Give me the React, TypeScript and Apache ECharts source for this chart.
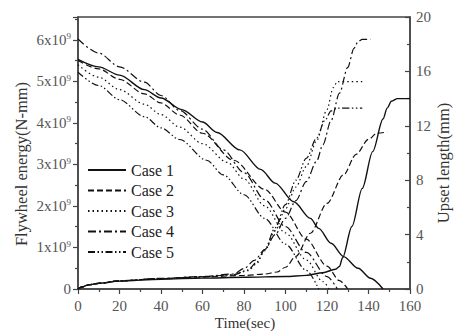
import React, { useEffect, useRef } from "react";
import * as echarts from "echarts";

const FONT = "Liberation Serif";

const caseNames = ["Case 1", "Case 2", "Case 3", "Case 4", "Case 5"];
const xTicks = { min: 0, max: 160, interval: 20 };
const leftTicks = { min: 0, max: 6.55, interval: 1 }; // units of 1e9 N-mm
const rightTicks = { min: 0, max: 20, interval: 4 };

// Flywheel energy (x10^9 N-mm) vs time (sec)
const energy1 = [[0,5.53],[10,5.35],[20,5.15],[32,4.8],[40,4.6],[50,4.32],[60,4.02],[67,3.77],[78,3.35],[88,2.88],[95,2.55],[104,2.1],[112,1.7],[116,1.46],[122,1.1],[128,0.78],[135,0.5],[141,0.26],[147,0]];
const energy2 = [[0,5.5],[10,5.3],[20,5.05],[32,4.7],[40,4.48],[49,4.19],[60,3.75],[75,3.1],[90,2.4],[100,1.85],[110,1.2],[120,0.55],[126,0.2],[130,0]];
const energy3 = [[0,5.4],[10,5.1],[20,4.8],[32,4.45],[40,4.2],[49,3.9],[60,3.5],[72,3.05],[80,2.65],[90,2.0],[100,1.35],[110,0.7],[118,0.18],[121,0]];
const energy4 = [[0,6.02],[10,5.68],[20,5.35],[32,4.98],[40,4.66],[49,4.3],[60,3.85],[70,3.35],[80,2.8],[90,2.15],[100,1.5],[110,0.88],[120,0.3],[125,0]];
const energy5 = [[0,5.22],[10,4.9],[20,4.56],[32,4.15],[40,3.88],[49,3.6],[62,3.1],[70,2.75],[80,2.27],[90,1.7],[100,1.08],[110,0.45],[116,0]];

// Upset length (mm) vs time (sec)
const upset1 = [[0,0],[2,0.15],[5,0.3],[10,0.42],[20,0.58],[40,0.72],[60,0.8],[80,0.86],[100,0.92],[110,1.0],[118,1.2],[124,1.45],[126,1.65],[127.5,2.3],[132,4.6],[137,7.4],[142,10.1],[147,12.5],[149,13.3],[151,13.8],[154,14.0],[160,14.0]];
const upset2 = [[0,0],[2,0.15],[5,0.3],[10,0.42],[20,0.6],[40,0.76],[60,0.88],[80,1.0],[90,1.1],[96,1.25],[100,1.6],[105,2.4],[112,4.1],[120,6.3],[128,8.4],[134,9.9],[140,11.0],[144,11.45],[149,11.55]];
const upset3 = [[0,0],[2,0.15],[5,0.3],[10,0.42],[20,0.6],[40,0.77],[60,0.9],[75,1.05],[82,1.35],[86,1.85],[90,2.8],[95,4.3],[100,5.9],[105,7.5],[110,9.0],[115,10.9],[120,13.2],[123,14.8],[125,15.25],[137,15.25]];
const upset4 = [[0,0],[2,0.15],[5,0.3],[10,0.42],[20,0.6],[40,0.78],[60,0.92],[75,1.1],[80,1.5],[85,2.1],[90,2.9],[95,4.0],[100,5.2],[105,6.5],[110,7.9],[115,9.4],[118,10.6],[122,12.4],[126,14.4],[130,16.3],[133,17.7],[135,18.2],[137,18.35],[141,18.35]];
const upset5 = [[0,0],[2,0.15],[5,0.3],[10,0.42],[20,0.6],[40,0.77],[60,0.9],[75,1.05],[82,1.4],[86,1.95],[90,2.9],[95,4.5],[100,6.2],[105,8.0],[110,9.6],[115,11.1],[119,12.4],[122,13.1],[125,13.3],[137,13.3]];

// curve number annotations: [time, value, text, fontSize]
const energyNotes: [number, number, string, number][] = [[62.3,2.77,"5",15],[72.4,2.9,"3",15],[94.9,2.87,"1",15],[90.9,2.39,"2",15],[87.7,2.12,"4",15],[108.9,0.98,"2",12]];
const upsetNotes: [number, number, string, number][] = [[137.3,18.95,"4",15],[137,16.35,"3",15],[137,14.75,"5",15],[155.8,14.9,"1",15],[150.4,10.35,"2",15]];

const energySets = [energy1, energy2, energy3, energy4, energy5];
const upsetSets = [upset1, upset2, upset3, upset4, upset5];
const dashTypes: any[] = ["solid", [6, 3], [1.5, 3], [8, 3, 2, 3], [7, 2.5, 1.5, 2.5, 1.5, 2.5]];

export default function App() {
  const ref = useRef<HTMLDivElement>(null);
  useEffect(() => {
    if (!ref.current) return;
    const chart = echarts.init(ref.current, undefined, { renderer: "svg" });
    const lineSeries: any[] = [];
    const mk = (d: number[][], i: number, yAxisIndex: number) => ({
      type: "line", name: caseNames[i], data: d, xAxisIndex: 0, yAxisIndex,
      symbol: "none", showSymbol: false, smooth: 0.3, smoothMonotone: "x",
      lineStyle: { color: "#111", width: i === 0 ? 1.4 : 1.2, type: dashTypes[i] },
      itemStyle: { color: "#111" }, silent: true,
    });
    energySets.forEach((d, i) => lineSeries.push(mk(d, i, 0)));
    upsetSets.forEach((d, i) => lineSeries.push(mk(d, i, 1)));
    const noteLabel = { show: true, position: "inside", formatter: "{b}", fontSize: 15, fontFamily: FONT, color: "#222" };
    const toNote = (n: [number, number, string, number]) => ({ name: n[2], value: [n[0], n[1]], label: { fontSize: n[3] } });
    lineSeries.push({
      type: "scatter", yAxisIndex: 0, symbolSize: 1, itemStyle: { opacity: 0 }, silent: true,
      data: energyNotes.map(toNote), label: noteLabel,
    });
    lineSeries.push({
      type: "scatter", yAxisIndex: 1, symbolSize: 1, itemStyle: { opacity: 0 }, silent: true,
      data: upsetNotes.map(toNote), label: noteLabel,
    });

    const axisLine = { show: true, lineStyle: { color: "#444", width: 1.5 } };
    const tickStyle = { color: "#444", width: 1.2 };
    chart.setOption({
      animation: false,
      textStyle: { fontFamily: FONT },
      grid: { left: 78, right: 44, top: 17, bottom: 43, show: true, borderColor: "#444", borderWidth: 1.5 },
      legend: {
        data: caseNames, orient: "vertical", left: 87, top: 162, padding: 0, itemWidth: 38, itemHeight: 14, itemGap: 4.5,
        textStyle: { fontSize: 16, fontFamily: FONT, color: "#222", lineHeight: 16 },
        itemStyle: { opacity: 0, borderWidth: 0 },
        selectedMode: false,
      },
      xAxis: {
        type: "value", ...xTicks,
        axisLine, splitLine: { show: false },
        axisTick: { show: true, length: 5, lineStyle: tickStyle },
        minorTick: { show: true, splitNumber: 2, length: 3, lineStyle: tickStyle },
        minorSplitLine: { show: false },
        axisLabel: { fontSize: 15, fontFamily: FONT, color: "#555", margin: 9 },
      },
      yAxis: [
        {
          type: "value", ...leftTicks, position: "left",
          axisLine, splitLine: { show: false },
          axisTick: { show: true, length: 5, lineStyle: tickStyle },
          minorTick: { show: true, splitNumber: 2, length: 3, lineStyle: tickStyle },
          axisLabel: {
            showMaxLabel: false, margin: 7, color: "#555", fontFamily: FONT, fontSize: 15,
            formatter: (v: number) => (v === 0 ? "{m|0}" : `{m|${v}x10}{s|9}`),
            rich: {
              m: { fontSize: 15, fontFamily: FONT, color: "#555" },
              s: { fontSize: 9, fontFamily: FONT, color: "#555", verticalAlign: "top", padding: [0, 0, 7, 0] },
            },
          },
        },
        {
          type: "value", ...rightTicks, position: "right",
          axisLine, splitLine: { show: false },
          axisTick: { show: true, inside: true, length: 5, lineStyle: tickStyle },
          minorTick: { show: true, splitNumber: 2, length: 3, lineStyle: tickStyle },
          axisLabel: { fontSize: 15, fontFamily: FONT, color: "#555", margin: 6 },
        },
      ],
      graphic: [
        { type: "text", x: 21, y: 164, rotation: Math.PI / 2, style: { text: "Flywheel energy(N-mm)", font: "16.5px Liberation Serif", fill: "#333", align: "center", verticalAlign: "middle" } },
        { type: "text", x: 443, y: 163, rotation: Math.PI / 2, style: { text: "Upset length(mm)", font: "16.5px Liberation Serif", fill: "#333", align: "center", verticalAlign: "middle" } },
        { type: "text", x: 245, y: 323, style: { text: "Time(sec)", font: "15px Liberation Serif", fill: "#333", align: "center", verticalAlign: "middle" } },
      ],
      series: lineSeries,
    });
    return () => chart.dispose();
  }, []);
  return <div ref={ref} style={{ position: "absolute", left: 0, top: 0, width: 454, height: 332, background: "#fff" }} />;
}
